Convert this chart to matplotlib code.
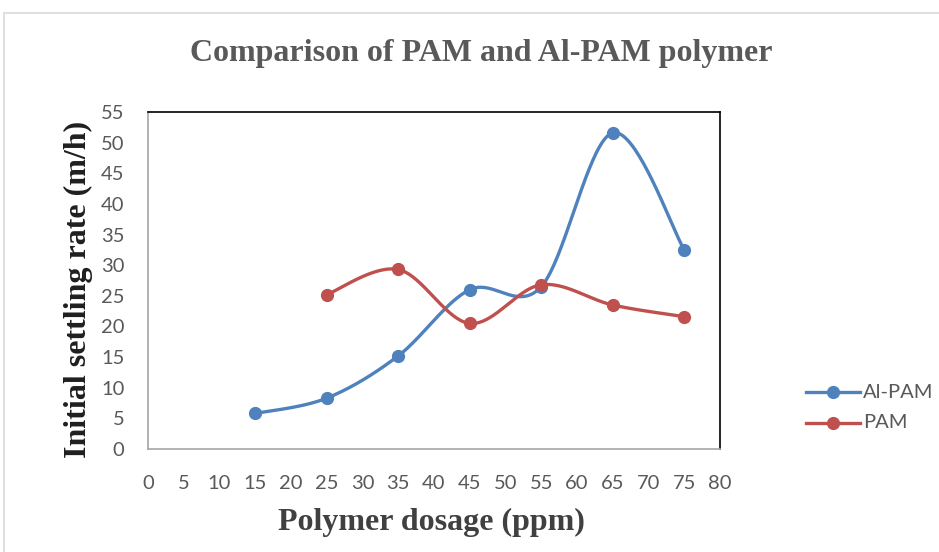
import numpy as np
import matplotlib
matplotlib.use("Agg")
import matplotlib.pyplot as plt
from matplotlib.patches import Rectangle

# Data
dosage_al = [15, 25, 35, 45, 55, 65, 75]
al_pam = [5.8, 8.3, 15.2, 26.0, 26.5, 51.6, 32.5]
dosage_pam = [25, 35, 45, 55, 65, 75]
pam = [25.2, 29.3, 20.5, 26.8, 23.5, 21.6]
x_ticks = list(range(0, 85, 5))
y_ticks = list(range(0, 60, 5))

BLUE = "#4F81BD"
RED = "#C0504D"


def smooth(xs, ys, n=40):
    """Excel-like smoothed line (Catmull-Rom as cubic Bezier)."""
    P = np.column_stack([xs, ys]).astype(float)
    out = []
    for i in range(len(P) - 1):
        p0 = P[i - 1] if i > 0 else P[i]
        p1 = P[i]
        p2 = P[i + 1]
        p3 = P[i + 2] if i + 2 < len(P) else P[i + 1]
        b1 = p1 + (p2 - p0) / 6.0
        b2 = p2 - (p3 - p1) / 6.0
        t = np.linspace(0, 1, n)[:, None]
        seg = ((1 - t) ** 3) * p1 + 3 * ((1 - t) ** 2) * t * b1 + 3 * (1 - t) * t ** 2 * b2 + t ** 3 * p2
        out.append(seg if i == 0 else seg[1:])
    c = np.vstack(out)
    return c[:, 0], c[:, 1]


W, H = 939, 552
fig = plt.figure(figsize=(W / 100, H / 100), dpi=100)
fig.patch.set_facecolor("white")

# outer chart border
fig.add_artist(Rectangle((4 / W, -0.05), 1.1, (H - 13) / H + 0.05, transform=fig.transFigure,
                         fill=False, edgecolor="#D9D9D9", linewidth=1.2))

ax = fig.add_axes([148 / W, (H - 449) / H, 572 / W, 337 / H])

sx, sy = smooth(dosage_al, al_pam)
ax.plot(sx, sy, color=BLUE, lw=2.4, solid_capstyle="round", zorder=3)
ax.plot(dosage_al, al_pam, "o", color=BLUE, ms=8.5, zorder=4)
sx, sy = smooth(dosage_pam, pam)
ax.plot(sx, sy, color=RED, lw=2.4, solid_capstyle="round", zorder=3)
ax.plot(dosage_pam, pam, "o", color=RED, ms=8.5, zorder=4)

ax.set_xlim(0, 80)
ax.set_ylim(0, 55)
ax.set_xticks(x_ticks)
ax.set_yticks(y_ticks)
ax.set_xticklabels([str(v) for v in x_ticks])
ax.set_yticklabels([str(v) for v in y_ticks])
ax.tick_params(axis="both", length=0, labelsize=14.5, labelcolor="#595959")
ax.tick_params(axis="x", pad=19)
ax.tick_params(axis="y", pad=17)
for lab in ax.get_xticklabels() + ax.get_yticklabels():
    lab.set_fontfamily("Lato")

for s in ("top", "right"):
    ax.spines[s].set_color("black")
    ax.spines[s].set_linewidth(1.2)
for s in ("left", "bottom"):
    ax.spines[s].set_color("#A6A6A6")
    ax.spines[s].set_linewidth(1.2)

fig.text(481 / W, 1 - 53 / H, "Comparison of PAM and Al-PAM polymer", ha="center", va="center",
         fontsize=23, fontweight="bold", family="Liberation Serif", color="#595959")
fig.text(431 / W, 1 - 522 / H, "Polymer dosage (ppm)", ha="center", va="center",
         fontsize=23, fontweight="bold", family="Liberation Serif", color="#404040")
fig.text(78 / W, 1 - 289 / H, "Initial settling rate (m/h)", ha="center", va="center", rotation=90,
         fontsize=23, fontweight="bold", family="Liberation Serif", color="#1F1F1F")

# legend
for yy, col, name in [(392, BLUE, "Al-PAM"), (423, RED, "PAM")]:
    yf = 1 - yy / H
    fig.add_artist(plt.Line2D([806 / W, 860 / W], [yf, yf], transform=fig.transFigure,
                              color=col, lw=2.4))
    fig.add_artist(plt.Line2D([833 / W], [yf], transform=fig.transFigure, marker="o",
                              color=col, ms=8.5))
    fig.text(863 / W, yf, name, ha="left", va="center", fontsize=14.5, family="Lato", color="#595959")

fig.savefig("out.png", dpi=100)
